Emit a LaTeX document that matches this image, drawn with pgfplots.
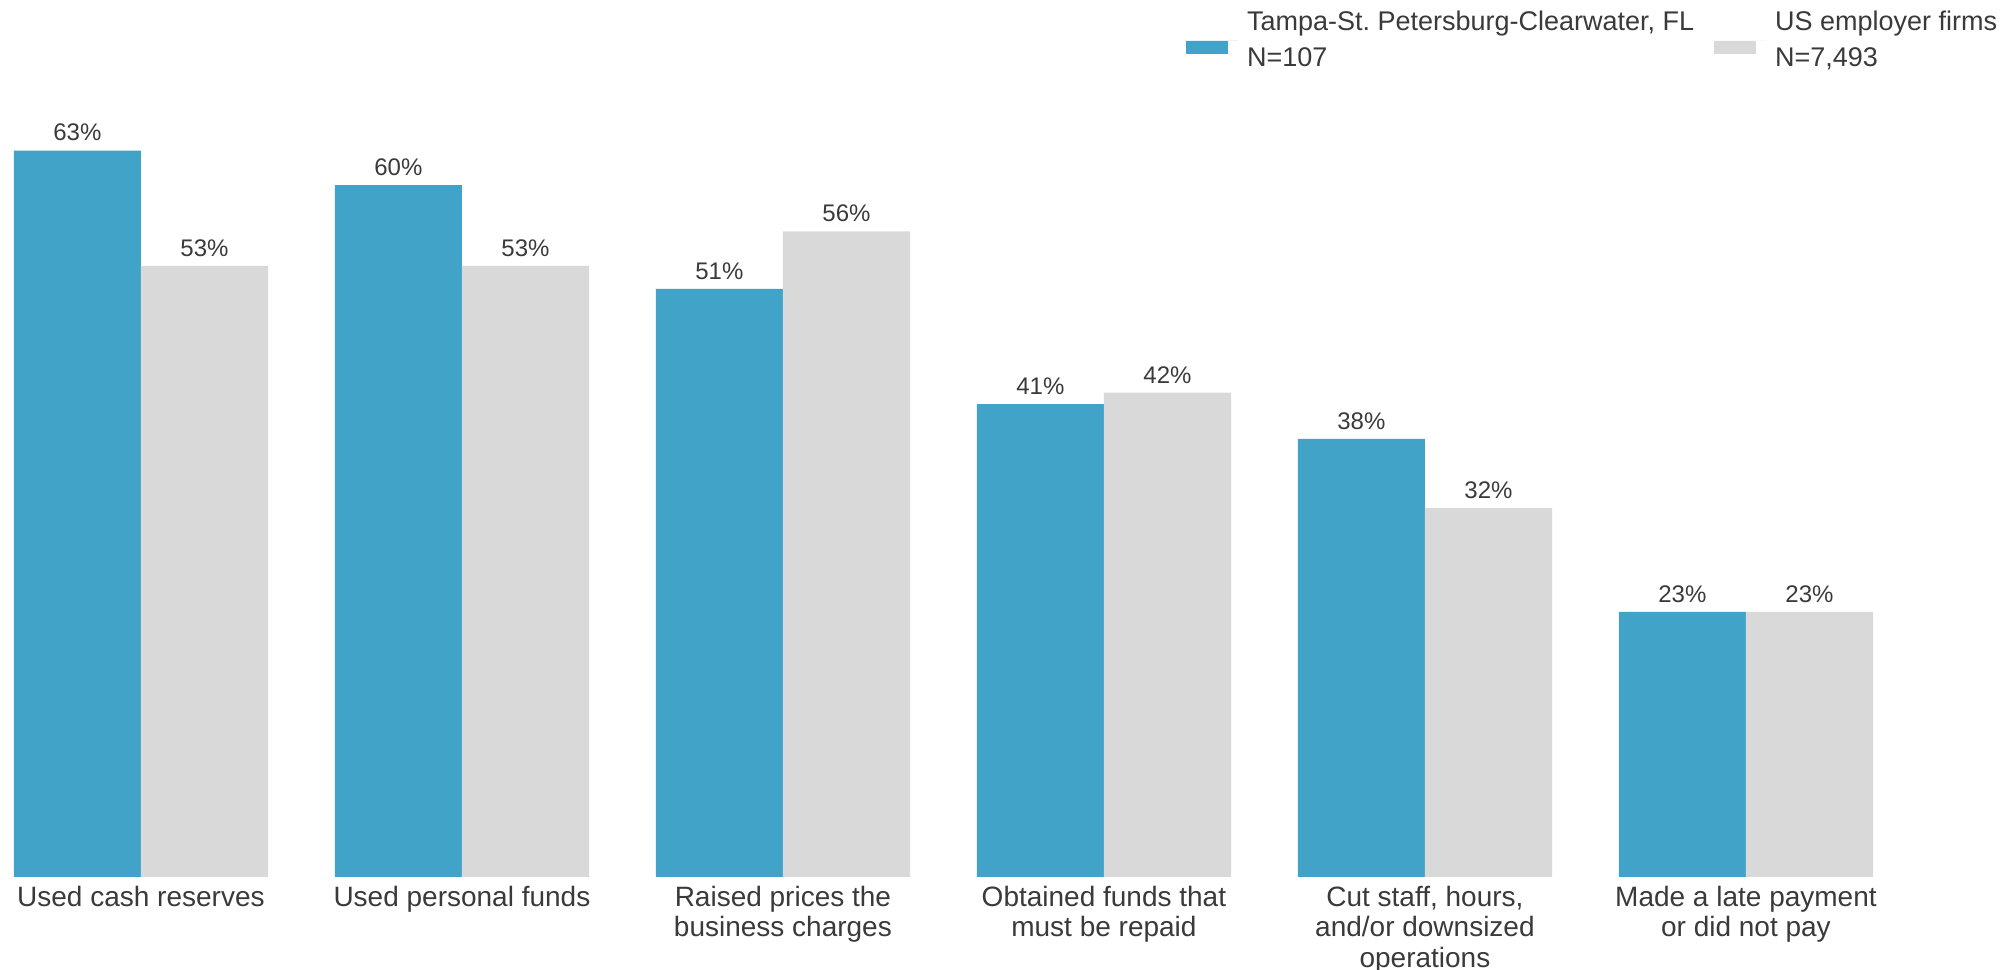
\documentclass[border=0pt]{standalone}
\usepackage{fontspec}
\setmainfont{Liberation Sans}
\usepackage{pgfplots}
\pgfplotsset{compat=1.18}
\definecolor{tampa}{HTML}{42A3C8}
\definecolor{usgray}{HTML}{D9D9D9}
\definecolor{txt}{HTML}{3A3A3A}
\frenchspacing
\begin{document}
\begin{tikzpicture}
\begin{axis}[
  name=ax,
  scale only axis,
  width=1006.5pt, height=438.5pt,
  xmin=-0.439, xmax=5.832, ymin=0, ymax=76.06,
  enlarge x limits=false,
  clip=false,
  ybar,
  bar width=0.396,
  /pgf/number format/assume math mode=true,
  axis line style={draw=none},
  tick style={draw=none},
  major tick length=0pt,
  ytick=\empty,
  xtick={0,1,2,3,4,5},
  xticklabels={Used cash reserves, Used personal funds, Raised prices the\\business charges, Obtained funds that\\must be repaid, {Cut staff, hours,\\and/or downsized\\operations}, Made a late payment\\or did not pay},
  xticklabel style={align=center, font=\fontsize{14}{15.2}\selectfont, text=txt, anchor=north, yshift=-1pt},
  nodes near coords={\pgfmathprintnumber{\pgfplotspointmeta}\%},
  nodes near coords style={font=\fontsize{12}{13}\selectfont, text=txt, inner sep=2.5pt, yshift=2pt},
  legend columns=2,
  legend image code/.code={\fill[#1] (0pt,-7pt) rectangle (21pt,-0.5pt); \path (0pt,0pt) -- (26pt,0pt);},
  legend style={at={(0.586,0.997)}, anchor=north west, draw=none, fill=none,
    font=\fontsize{13.5}{18}\selectfont, text=txt,
    nodes={align=left, inner xsep=4.5pt}, /tikz/every even column/.append style={column sep=5.5pt}},
]
\addplot[fill=tampa, draw=none, bar shift=-0.198] coordinates {(0,63) (1,60) (2,51) (3,41) (4,38) (5,23)};
\addlegendentry{Tampa-St.\ Petersburg-Clearwater, FL\\N=107}
\addplot[fill=usgray, draw=none, bar shift=0.198] coordinates {(0,53) (1,53) (2,56) (3,42) (4,32) (5,23)};
\addlegendentry{US employer firms\\N=7,493}
\end{axis}
\pgfresetboundingbox
\path (ax.south west) ++(0,-46.5pt) rectangle (ax.north east);
\end{tikzpicture}
\end{document}
